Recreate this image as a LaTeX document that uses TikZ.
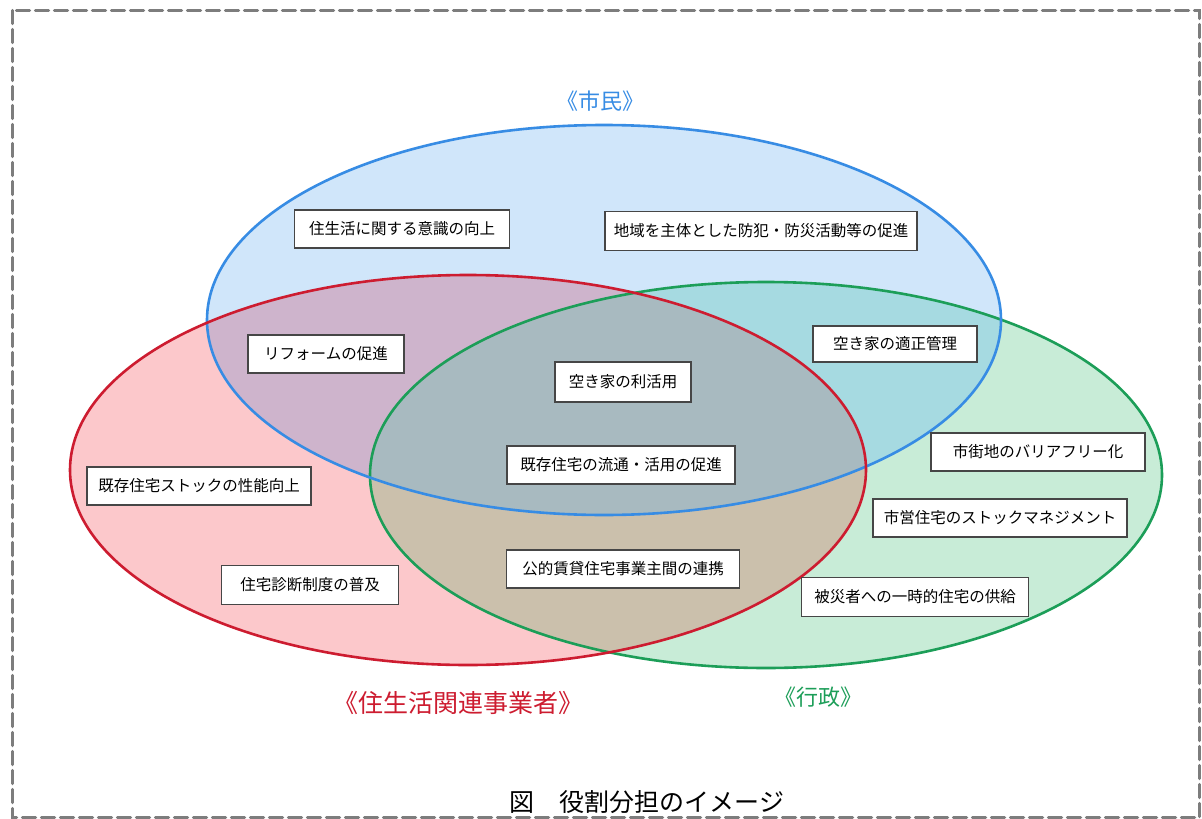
\documentclass[tikz,border=0pt]{standalone}
\usepackage{fontspec}
\setmainfont{Noto Sans CJK JP}
\begin{document}
\begin{tikzpicture}[x=1pt,y=-1pt,
  box/.style={draw={rgb,255:red,70;green,70;blue,70}, line width=1.4pt, fill=white, inner sep=0pt, font=\fontsize{15.5}{17}\selectfont},
  ring/.style={line width=2.6pt}]
\definecolor{bonly}{RGB}{208,230,250}
\definecolor{ronly}{RGB}{252,200,203}
\definecolor{gonly}{RGB}{200,236,215}
\definecolor{cbr}{RGB}{206,180,204}
\definecolor{cbg}{RGB}{166,218,225}
\definecolor{crg}{RGB}{203,192,172}
\definecolor{cbrg}{RGB}{168,186,192}
\definecolor{bline}{RGB}{55,140,228}
\definecolor{rline}{RGB}{205,28,48}
\definecolor{gline}{RGB}{28,158,88}
\definecolor{frame}{RGB}{125,125,125}
\useasboundingbox (0,0) rectangle (1202,819);
\fill[white] (0,0) rectangle (1202,819);
% frame
\draw[frame, line width=3.5pt, dash pattern=on 13pt off 6pt, line cap=round] (12.5,10.5) rectangle (1199.5,817.5);
% fills
\fill[bonly] (604,320) ellipse [x radius=397pt, y radius=195pt];
\fill[ronly] (468,470) ellipse [x radius=398pt, y radius=195pt];
\fill[gonly] (766,475) ellipse [x radius=396pt, y radius=193pt];
\begin{scope}
  \clip (604,320) ellipse [x radius=397pt, y radius=195pt];
  \fill[cbr] (468,470) ellipse [x radius=398pt, y radius=195pt];
  \fill[cbg] (766,475) ellipse [x radius=396pt, y radius=193pt];
\end{scope}
\begin{scope}
  \clip (468,470) ellipse [x radius=398pt, y radius=195pt];
  \fill[crg] (766,475) ellipse [x radius=396pt, y radius=193pt];
\end{scope}
\begin{scope}
  \clip (604,320) ellipse [x radius=397pt, y radius=195pt];
  \clip (468,470) ellipse [x radius=398pt, y radius=195pt];
  \fill[cbrg] (766,475) ellipse [x radius=396pt, y radius=193pt];
\end{scope}
% outlines
\draw[ring, gline] (766,475) ellipse [x radius=396pt, y radius=193pt];
\draw[ring, bline] (604,320) ellipse [x radius=397pt, y radius=195pt];
\draw[ring, rline] (468,470) ellipse [x radius=398pt, y radius=195pt];
% boxes
\node[box, minimum width=215pt, minimum height=38pt] (b1) at (402,229) {住生活に関する意識の向上};
\node[box, minimum width=312pt, minimum height=39pt] (b2) at (761,231) {地域を主体とした防犯・防災活動等の促進};
\node[box, minimum width=156pt, minimum height=38pt] (b3) at (326,354) {リフォームの促進};
\node[box, minimum width=164pt, minimum height=36pt] (b4) at (895,344) {空き家の適正管理};
\node[box, minimum width=136pt, minimum height=40pt] (b5) at (623,382) {空き家の利活用};
\node[box, minimum width=228pt, minimum height=38pt] (b6) at (621,465) {既存住宅の流通・活用の促進};
\node[box, minimum width=224pt, minimum height=38pt] (b7) at (199,486) {既存住宅ストックの性能向上};
\node[box, minimum width=177pt, minimum height=39pt] (b8) at (310,585) {住宅診断制度の普及};
\node[box, minimum width=233pt, minimum height=38pt] (b9) at (623,569) {公的賃貸住宅事業主間の連携};
\node[box, minimum width=214pt, minimum height=38pt] (b10) at (1038,452) {市街地のバリアフリー化};
\node[box, minimum width=254pt, minimum height=38pt] (b11) at (1000,518) {市営住宅のストックマネジメント};
\node[box, minimum width=227pt, minimum height=39pt] (b12) at (915,597) {被災者への一時的住宅の供給};
% group labels
\node[text=bline, font=\fontsize{22}{24}\selectfont] (lb) at (600,101) {《市民》};
\node[text=rline, font=\fontsize{25}{27}\selectfont] (lr) at (458,703) {《住生活関連事業者》};
\node[text=gline, font=\fontsize{22}{24}\selectfont] (lg) at (818,697) {《行政》};
% caption
\node[font=\fontsize{25}{27}\selectfont, inner sep=0pt] (cap) at (647,802) {図\hspace{1em}役割分担のイメージ};
\end{tikzpicture}
\end{document}
